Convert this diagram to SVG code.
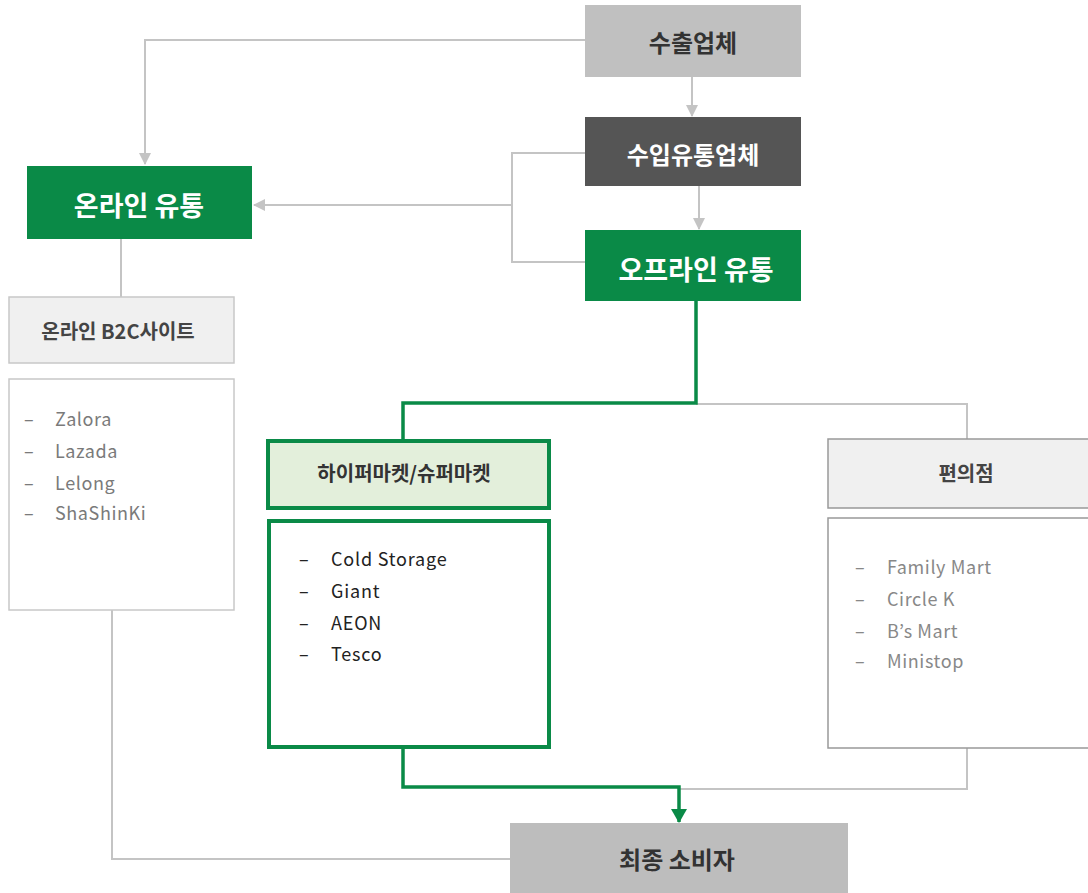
<svg xmlns="http://www.w3.org/2000/svg" width="1088" height="893" viewBox="0 0 1088 893">
<style>
text{font-family:"Noto Sans CJK KR","Noto Sans",sans-serif;dominant-baseline:central}
.c{text-anchor:middle}
.gl{fill:none;stroke:#c4c4c4;stroke-width:2}
.gr{fill:none;stroke:#0a8a47;stroke-width:3.5}
.li{font-size:18px;fill:#7a7a7a;letter-spacing:0.6px}
.ld{font-size:18px;fill:#222;letter-spacing:0.8px}
.lc{font-size:18px;fill:#888;letter-spacing:0.6px}
</style>
<defs>
<marker id="ag" viewBox="0 0 12 12" refX="11" refY="6" markerWidth="12" markerHeight="12" markerUnits="userSpaceOnUse" orient="auto"><path d="M0,0 L12,6 L0,12 Z" fill="#c4c4c4"/></marker>
<marker id="agr" viewBox="0 0 14 16" refX="13" refY="8" markerWidth="14" markerHeight="16" markerUnits="userSpaceOnUse" orient="auto"><path d="M0,0 L14,8 L0,16 Z" fill="#0a8a47"/></marker>
</defs>
<rect width="1088" height="893" fill="#fff"/>
<g id="connectors">
<path class="gl" d="M585 40 H145 V164" marker-end="url(#ag)"/>
<path class="gl" d="M692 77 V116" marker-end="url(#ag)"/>
<path class="gl" d="M699 186 V229" marker-end="url(#ag)"/>
<path class="gl" d="M585 153 H512 V262 H585"/>
<path class="gl" d="M512 205 H254" marker-end="url(#ag)"/>
<path class="gl" d="M121 239 V297"/>
<path class="gl" d="M112 610 V859 H510"/>
<path class="gl" d="M696 404 H967 V439"/>
<path class="gl" d="M967 748 V789 H680"/>
<path class="gr" d="M696 301 V403 H403 V441"/>
<path class="gr" d="M403 748 V787 H679 V822" marker-end="url(#agr)"/>
</g>
<g id="exporter">
<rect x="585" y="5" width="216" height="72" fill="#c0c0c0"/>
<text class="c" x="693" y="41" font-size="24" font-weight="bold" fill="#333">수출업체</text>
</g>
<g id="importer">
<rect x="585" y="117" width="216" height="69" fill="#555"/>
<text class="c" x="693" y="153" font-size="24" font-weight="bold" fill="#fff">수입유통업체</text>
</g>
<g id="offline">
<rect x="585" y="230" width="216" height="71" fill="#0a8a47"/>
<text class="c" x="696" y="268" font-size="27" font-weight="bold" fill="#fff">오프라인 유통</text>
</g>
<g id="online">
<rect x="27" y="166" width="225" height="73" fill="#0a8a47"/>
<text class="c" x="139" y="204" font-size="27" font-weight="bold" fill="#fff">온라인 유통</text>
</g>
<g id="b2c">
<rect x="9" y="297" width="225" height="66" fill="#f0f0f0" stroke="#c8c8c8" stroke-width="1.5"/>
<text class="c" x="118" y="330" font-size="20" font-weight="bold" fill="#444">온라인 B2C사이트</text>
</g>
<g id="b2c-list">
<rect x="9" y="379" width="225" height="231" fill="#fff" stroke="#c8c8c8" stroke-width="1.5"/>
<text class="li" x="24" y="418">–</text><text class="li" x="55" y="418">Zalora</text>
<text class="li" x="24" y="450">–</text><text class="li" x="55" y="450">Lazada</text>
<text class="li" x="24" y="482">–</text><text class="li" x="55" y="482">Lelong</text>
<text class="li" x="24" y="512">–</text><text class="li" x="55" y="512">ShaShinKi</text>
</g>
<g id="hyper">
<rect x="268" y="441" width="281" height="67" fill="#e3efdb" stroke="#0a8a47" stroke-width="4"/>
<text class="c" x="404" y="472" font-size="20" font-weight="bold" fill="#333">하이퍼마켓/슈퍼마켓</text>
</g>
<g id="hyper-list">
<rect x="269" y="521" width="280" height="226" fill="#fff" stroke="#0a8a47" stroke-width="4"/>
<text class="ld" x="299" y="558">–</text><text class="ld" x="331" y="558">Cold Storage</text>
<text class="ld" x="299" y="590">–</text><text class="ld" x="331" y="590">Giant</text>
<text class="ld" x="299" y="622">–</text><text class="ld" x="331" y="622">AEON</text>
<text class="ld" x="299" y="653">–</text><text class="ld" x="331" y="653">Tesco</text>
</g>
<g id="conv">
<rect x="828" y="439" width="280" height="69" fill="#f0f0f0" stroke="#999" stroke-width="1.5"/>
<text class="c" x="966" y="472" font-size="20" font-weight="bold" fill="#444">편의점</text>
</g>
<g id="conv-list">
<rect x="828" y="518" width="280" height="230" fill="#fff" stroke="#999" stroke-width="1.5"/>
<text class="lc" x="855" y="566">–</text><text class="lc" x="887" y="566">Family Mart</text>
<text class="lc" x="855" y="598">–</text><text class="lc" x="887" y="598">Circle K</text>
<text class="lc" x="855" y="630">–</text><text class="lc" x="887" y="630">B’s Mart</text>
<text class="lc" x="855" y="660">–</text><text class="lc" x="887" y="660">Ministop</text>
</g>
<g id="consumer">
<rect x="510" y="823" width="338" height="75" fill="#bdbdbd"/>
<text class="c" x="677" y="858" font-size="24" font-weight="bold" fill="#333">최종 소비자</text>
</g>
</svg>
